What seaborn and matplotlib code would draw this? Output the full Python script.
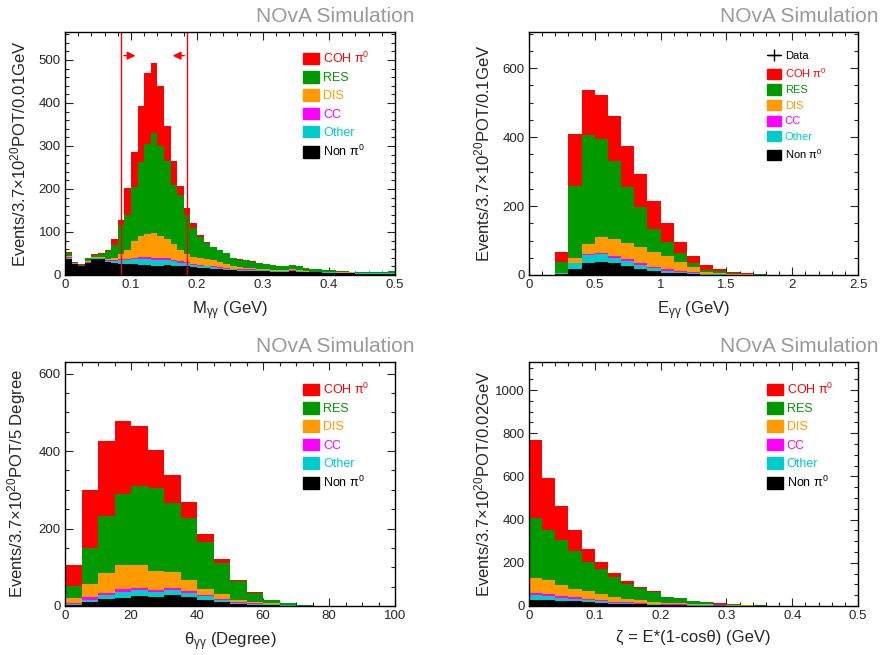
import numpy as np
import pandas as pd
import matplotlib
matplotlib.use("Agg")
import matplotlib.pyplot as plt
from matplotlib.patches import Patch
from matplotlib.lines import Line2D
from matplotlib.ticker import MultipleLocator, FuncFormatter
import seaborn as sns

# ========== DATA ==========
COMPONENTS = ["COH", "RES", "DIS", "CC", "Other", "Non"]
LABELS = ["COH π$^0$", "RES", "DIS", "CC", "Other", "Non π$^0$"]
COLORS = ["#ff0000", "#009a00", "#ff9a00", "#ff00ff", "#00cccc", "#000000"]

# M_gg: 0-0.5 GeV, 0.01 GeV bins
MGG_EDGES = np.linspace(0, 0.5, 51)
MGG_COH = [4, 1, 1, 0, 1, 2, 3, 13, 11, 62, 80, 132, 165, 162, 140, 81, 56, 23, 16, 10,
           5, 2, 2, 1, 1, 0, 1, 1, 1, 1, 0, 0, 0, 0, 0, 0, 0, 0, 0, 0,
           0, 0, 0, 0, 0, 0, 0, 0, 0, 0]
MGG_RES = [6, 1, 2, 8, 5, 5, 17, 30, 69, 82, 125, 172, 209, 233, 209, 182, 138, 127, 91, 67,
           49, 38, 29, 27, 26, 20, 18, 17, 15, 13, 12, 12, 10, 10, 11, 9, 8, 7, 6, 5,
           4, 4, 3, 2, 2, 3, 2, 2, 3, 5]
MGG_DIS = [3, 1, 1, 2, 2, 3, 4, 6, 11, 20, 40, 49, 54, 57, 52, 43, 37, 26, 19, 17,
           15, 15, 14, 11, 9, 5, 5, 4, 3, 3, 2, 2, 2, 2, 2, 1, 1, 1, 1, 1,
           1, 1, 1, 1, 1, 0, 0, 0, 0, 0]
MGG_CC = [1, 0, 0, 1, 1, 1, 1, 1, 2, 3, 3, 4, 4, 4, 4, 4, 3, 3, 3, 2,
          2, 2, 2, 2, 1, 1, 1, 1, 1, 1, 1, 1, 1, 1, 1, 1, 0, 0, 0, 0,
          0, 0, 0, 0, 0, 0, 0, 0, 0, 0]
MGG_OTHER = [2, 1, 1, 1, 2, 2, 3, 6, 9, 10, 12, 13, 14, 14, 13, 12, 10, 9, 7, 6,
             5, 4, 4, 3, 3, 3, 2, 2, 2, 2, 2, 1, 1, 1, 1, 1, 1, 1, 1, 1,
             1, 1, 1, 1, 1, 1, 1, 1, 1, 1]
MGG_NON = [38, 26, 20, 28, 37, 37, 30, 27, 26, 25, 25, 24, 24, 22, 22, 24, 22, 20, 20, 18,
           17, 16, 15, 14, 12, 11, 10, 10, 10, 9, 9, 8, 8, 8, 9, 8, 7, 6, 6, 5,
           5, 4, 4, 4, 3, 3, 3, 3, 3, 3]
MGG_CUTS = [0.085, 0.185]
MGG_ARROW_Y = 510

# E_gg: 0-2.5 GeV, 0.1 GeV bins
EGG_EDGES = np.linspace(0, 2.5, 26)
EGG_COH = [0, 0, 29, 149, 131, 128, 132, 119, 96, 82, 53, 32, 21, 13, 5, 2, 2, 1, 0, 0, 0, 0, 0, 0, 0]
EGG_RES = [0, 0, 33, 211, 317, 284, 225, 162, 114, 65, 42, 24, 12, 6, 4, 3, 2, 1, 0, 0, 0, 0, 0, 0, 0]
EGG_DIS = [0, 0, 1, 13, 28, 48, 49, 49, 48, 44, 39, 26, 14, 6, 4, 3, 2, 1, 0, 0, 0, 0, 0, 0, 0]
EGG_CC = [0, 0, 0, 1, 3, 3, 6, 3, 5, 4, 3, 4, 3, 1, 1, 0, 0, 0, 0, 0, 0, 0, 0, 0, 0]
EGG_OTHER = [0, 0, 2, 17, 24, 23, 16, 16, 13, 7, 6, 4, 2, 1, 1, 0, 0, 0, 0, 0, 0, 0, 0, 0, 0]
EGG_NON = [0, 0, 3, 17, 34, 37, 34, 26, 16, 13, 7, 5, 3, 1, 1, 0, 0, 0, 0, 0, 0, 0, 0, 0, 0]

# theta_gg: 0-100 degree, 5 degree bins
TGG_EDGES = np.linspace(0, 100, 21)
TGG_COH = [54, 149, 193, 189, 156, 99, 71, 41, 22, 11, 3, 2, 1, 1, 0, 0, 0, 0, 0, 0]
TGG_RES = [30, 92, 149, 184, 202, 214, 180, 162, 120, 79, 49, 24, 8, 4, 2, 0, 0, 0, 0, 0]
TGG_DIS = [13, 36, 50, 60, 60, 50, 40, 28, 17, 13, 5, 3, 2, 1, 0, 0, 0, 0, 0, 0]
TGG_CC = [2, 6, 6, 9, 6, 4, 5, 4, 3, 3, 2, 2, 1, 0, 0, 0, 0, 0, 0, 0]
TGG_OTHER = [3, 6, 11, 15, 14, 14, 14, 11, 10, 6, 3, 2, 2, 1, 0, 0, 0, 0, 0, 0]
TGG_NON = [3, 10, 17, 21, 27, 23, 28, 23, 15, 10, 6, 3, 2, 1, 0, 0, 0, 0, 0, 0]

# zeta: 0-0.5 GeV, 0.02 GeV bins
ZETA_EDGES = np.linspace(0, 0.5, 26)
ZETA_COH = [363, 240, 157, 99, 58, 31, 20, 12, 6, 4, 2, 2, 1, 2, 1, 1, 0, 0, 0, 0, 0, 0, 0, 0, 0]
ZETA_RES = [277, 235, 209, 175, 138, 119, 93, 72, 56, 46, 26, 25, 13, 9, 5, 3, 3, 2, 1, 1, 0, 0, 0, 0, 0]
ZETA_DIS = [71, 65, 51, 38, 34, 25, 20, 15, 12, 9, 6, 5, 5, 4, 3, 3, 2, 1, 1, 0, 0, 0, 0, 0, 0]
ZETA_CC = [7, 9, 8, 8, 5, 6, 5, 5, 3, 3, 2, 2, 1, 1, 1, 0, 0, 0, 0, 0, 0, 0, 0, 0, 0]
ZETA_OTHER = [27, 16, 14, 11, 9, 8, 4, 4, 3, 3, 2, 2, 1, 1, 1, 1, 0, 0, 0, 0, 0, 0, 0, 0, 0]
ZETA_NON = [26, 29, 23, 23, 20, 15, 11, 8, 8, 5, 4, 3, 2, 2, 1, 1, 1, 0, 0, 0, 0, 0, 0, 0, 0]

# ========== STYLE ==========
sns.set_style("ticks")
plt.rcParams["font.family"] = ["Liberation Sans", "DejaVu Sans"]
plt.rcParams["mathtext.default"] = "regular"

TICK_FS = 9.5
LABEL_FS = 12


def fmt(v, pos):
    return "%g" % v


def draw_stack(ax, edges, layers):
    centers = (edges[:-1] + edges[1:]) / 2
    df = pd.concat(
        [pd.DataFrame({"x": centers, "w": vals, "comp": name})
         for name, vals in zip(COMPONENTS, layers)],
        ignore_index=True,
    )
    sns.histplot(data=df, x="x", weights="w", hue="comp", hue_order=COMPONENTS,
                 palette=COLORS, bins=list(edges), multiple="stack", element="step",
                 alpha=1, linewidth=0, legend=False, ax=ax)


def style_axes(ax, xlim, ylim, xmaj, xmin, ymaj, ymin, xlabel, ylabel):
    ax.set_xlim(*xlim)
    ax.set_ylim(*ylim)
    ax.xaxis.set_major_locator(MultipleLocator(xmaj))
    ax.xaxis.set_minor_locator(MultipleLocator(xmin))
    ax.yaxis.set_major_locator(MultipleLocator(ymaj))
    ax.yaxis.set_minor_locator(MultipleLocator(ymin))
    ax.xaxis.set_major_formatter(FuncFormatter(fmt))
    ax.yaxis.set_major_formatter(FuncFormatter(fmt))
    ax.tick_params(which="both", direction="in", top=True, right=True,
                   width=0.8, labelsize=TICK_FS, pad=3)
    ax.tick_params(which="major", length=6)
    ax.tick_params(which="minor", length=3)
    for s in ax.spines.values():
        s.set_linewidth(1.0)
        s.set_color("black")
    ax.set_xlabel(xlabel, fontsize=LABEL_FS)
    ax.set_ylabel(ylabel, fontsize=LABEL_FS)
    ax.xaxis.set_label_coords(0.5, -0.1)
    ax.yaxis.set_label_coords(-0.112, 0.5)


def add_legend(ax, anchor, fs, spacing, with_data=False):
    handles = [Patch(facecolor=c, edgecolor=c) for c in COLORS]
    labels = list(LABELS)
    colors = list(COLORS)
    if with_data:
        handles = [Line2D([], [], color="black", marker="+", markersize=8, lw=1)] + handles
        labels = ["Data"] + labels
        colors = ["black"] + colors
    leg = ax.legend(handles, labels, loc="upper left", bbox_to_anchor=anchor,
                    frameon=False, fontsize=fs, handlelength=1.3, handleheight=1.05,
                    handletextpad=0.3, labelspacing=spacing, borderpad=0,
                    borderaxespad=0)
    for t, c in zip(leg.get_texts(), colors):
        t.set_color(c)


fig = plt.figure(figsize=(8.8, 6.55), dpi=100)
ax1 = fig.add_axes([65 / 880, 1 - 275 / 655, 330 / 880, 243 / 655])
ax2 = fig.add_axes([529 / 880, 1 - 275 / 655, 329 / 880, 243 / 655])
ax3 = fig.add_axes([65 / 880, 1 - 606 / 655, 330 / 880, 244 / 655])
ax4 = fig.add_axes([529 / 880, 1 - 606 / 655, 329 / 880, 244 / 655])

YL = "Events/3.7×10$^{20}$POT/"

# Top left: M_gg
draw_stack(ax1, MGG_EDGES, [MGG_COH, MGG_RES, MGG_DIS, MGG_CC, MGG_OTHER, MGG_NON])
style_axes(ax1, (0, 0.5), (0, 565), 0.1, 0.02, 100, 20,
           "M$_{γγ}$ (GeV)", YL + "0.01GeV")
for cut in MGG_CUTS:
    ax1.axvline(cut, color="red", lw=1)
ax1.annotate("", xy=(MGG_CUTS[0] + 0.026, MGG_ARROW_Y), xytext=(MGG_CUTS[0], MGG_ARROW_Y),
             arrowprops=dict(arrowstyle="-|>", color="red", lw=1, mutation_scale=12))
ax1.annotate("", xy=(MGG_CUTS[1] - 0.026, MGG_ARROW_Y), xytext=(MGG_CUTS[1], MGG_ARROW_Y),
             arrowprops=dict(arrowstyle="-|>", color="red", lw=1, mutation_scale=12))
add_legend(ax1, (0.721, 0.924), 9, 0.42)

# Top right: E_gg
draw_stack(ax2, EGG_EDGES, [EGG_COH, EGG_RES, EGG_DIS, EGG_CC, EGG_OTHER, EGG_NON])
style_axes(ax2, (0, 2.5), (0, 705), 0.5, 0.1, 200, 50,
           "E$_{γγ}$ (GeV)", YL + "0.1GeV")
add_legend(ax2, (0.723, 0.925), 8, 0.42, with_data=True)

# Bottom left: theta_gg
draw_stack(ax3, TGG_EDGES, [TGG_COH, TGG_RES, TGG_DIS, TGG_CC, TGG_OTHER, TGG_NON])
style_axes(ax3, (0, 100), (0, 630), 20, 5, 200, 50,
           "θ$_{γγ}$ (Degree)", YL + "5 Degree")
add_legend(ax3, (0.721, 0.92), 9, 0.42)

# Bottom right: zeta
draw_stack(ax4, ZETA_EDGES, [ZETA_COH, ZETA_RES, ZETA_DIS, ZETA_CC, ZETA_OTHER, ZETA_NON])
style_axes(ax4, (0, 0.5), (0, 1130), 0.1, 0.02, 200, 50,
           "ζ = E*(1-cosθ) (GeV)", YL + "0.02GeV")
add_legend(ax4, (0.723, 0.92), 9, 0.42)

for x, y in [(414, 16), (878, 16), (414, 347), (878, 347)]:
    fig.text(x / 880, 1 - y / 655, "NOvA Simulation", ha="right", va="center",
             color="#9a9a9a", fontsize=15)

fig.savefig("out.png", dpi=100)
